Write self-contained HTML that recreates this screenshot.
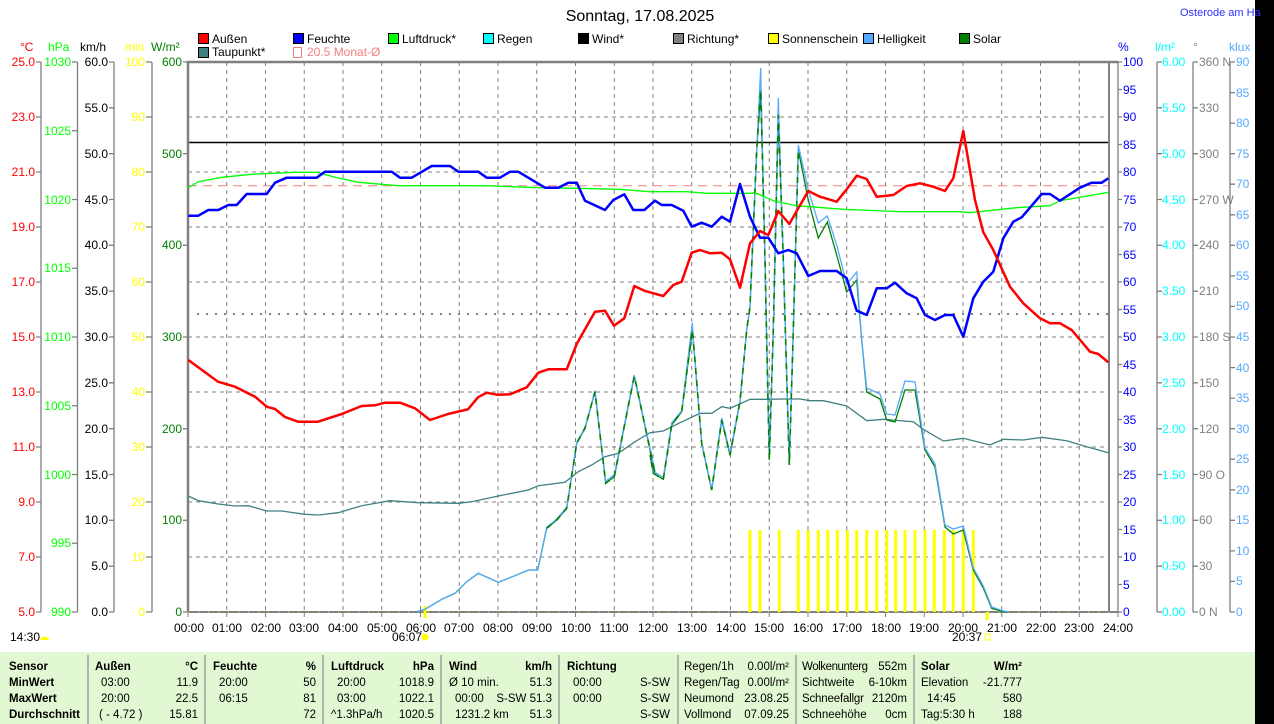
<!DOCTYPE html>
<html><head><meta charset="utf-8"><style>
body{margin:0;background:#fff;width:1274px;height:724px;overflow:hidden;position:relative;font-family:"Liberation Sans",sans-serif}
svg{position:absolute;left:0;top:0}
text{font-family:"Liberation Sans",sans-serif;font-size:12px}
.tb text{font-size:11.5px}
</style></head><body>
<svg width="1274" height="724" viewBox="0 0 1274 724">
<rect x="0" y="652" width="1255" height="72" fill="#e2f8d2"/>
<rect x="1255" y="0" width="19" height="724" fill="#000"/>
<text x="640" y="21" text-anchor="middle" style="font-size:16px">Sonntag, 17.08.2025</text>
<text x="1180" y="16" fill="#3030ff" style="font-size:11px">Osterode am Ha</text>
<g stroke="#000" stroke-width="1">
<rect x="198.5" y="33.5" width="10" height="10" fill="#f00"/>
<rect x="293.5" y="33.5" width="10" height="10" fill="#00f"/>
<rect x="388.5" y="33.5" width="10" height="10" fill="#0f0"/>
<rect x="483.5" y="33.5" width="10" height="10" fill="#0ff"/>
<rect x="578.5" y="33.5" width="10" height="10" fill="#000"/>
<rect x="673.5" y="33.5" width="10" height="10" fill="#808080"/>
<rect x="768.5" y="33.5" width="10" height="10" fill="#ff0"/>
<rect x="863.5" y="33.5" width="10" height="10" fill="#55aaff"/>
<rect x="959.5" y="33.5" width="10" height="10" fill="#008000"/>
<rect x="198.5" y="47.5" width="10" height="10" fill="#408080"/>
</g>
<rect x="293.5" y="47.5" width="8" height="10" fill="none" stroke="#f08080"/>
<g>
<text x="212" y="43">Außen</text><text x="307" y="43">Feuchte</text><text x="402" y="43">Luftdruck*</text>
<text x="497" y="43">Regen</text><text x="592" y="43">Wind*</text><text x="687" y="43">Richtung*</text>
<text x="782" y="43">Sonnenschein</text><text x="877" y="43">Helligkeit</text><text x="973" y="43">Solar</text>
<text x="212" y="56">Taupunkt*</text><text x="307" y="56" fill="#f08080">20.5 Monat-Ø</text>
</g>
<text x="20" y="51" fill="#f00">°C</text><text x="48" y="51" fill="#0f0">hPa</text>
<text x="80" y="51">km/h</text><text x="125" y="51" fill="#ff0">min</text>
<text x="151" y="51" fill="#008000">W/m²</text>
<text x="1118" y="51" fill="#00f">%</text><text x="1155" y="51" fill="#0ff">l/m²</text>
<text x="1193" y="51" fill="#808080">°</text><text x="1229" y="51" fill="#55aaff">klux</text>
<rect x="188" y="62" width="921" height="550" fill="#fff"/>
<g stroke="#808080" stroke-width="1" stroke-dasharray="4,4">
<path d="M226.75 62V612M265.5 62V612M304.25 62V612M343 62V612M381.75 62V612M420.5 62V612M459.25 62V612M498 62V612M536.75 62V612M575.5 62V612M614.25 62V612M653 62V612M691.75 62V612M730.5 62V612M769.25 62V612M808 62V612M846.75 62V612M885.5 62V612M924.25 62V612M963 62V612M1001.75 62V612M1040.5 62V612M1079.25 62V612"/>
<path d="M188 117H1109M188 172H1109M188 227H1109M188 282H1109M188 337H1109M188 392H1109M188 447H1109M188 502H1109M188 557H1109"/>
</g>
<path d="M197 314H1109" stroke="#808080" stroke-width="2" stroke-dasharray="2,7"/>
<path d="M188 142.5H1109" stroke="#000" stroke-width="1.5"/>
<path d="M188 185.7H1109" stroke="#f08080" stroke-width="1" stroke-dasharray="9,6"/>
<path d="M188 612V62H1118" fill="none" stroke="#808080" stroke-width="2.5"/>
<path d="M1109 62V612M188 612H1118" fill="none" stroke="#808080" stroke-width="2"/>
<path d="M188 612H1118" stroke="#ff0" stroke-width="1" stroke-dasharray="1,9"/>
<g stroke="#ff0" stroke-width="3">
<path d="M750 530V612M760 530V612M779.3 530V612M798.3 530V612M808.3 530V612M818.3 530V612M827.7 530V612M837.3 530V612M847.3 530V612M856.7 530V612M866.7 530V612M876.7 530V612M886.7 530V612M895.7 530V612M905 530V612M915 530V612M925 530V612M934.3 530V612M944.3 530V612M953.3 530V612M963.3 530V612M973.3 530V612"/>
<path d="M425 606V618M987 612V620"/>
</g>
<polyline fill="none" stroke="#408080" stroke-width="1.3" points="188.3,496 198.3,500.7 218.3,504 235,506 248.3,505.7 266.7,511 281.7,511 305,514.3 318.3,515 338.3,512.7 361.7,505.7 390,500.7 418.3,502.7 458.3,503.3 471.7,501.7 498.3,496 528.3,490 538.3,485.7 565,482.3 578.3,471.7 591.7,465 605,456.7 618.3,453.3 635,441.7 650,432.7 663.3,431 676.7,424.3 700,413.3 711.7,413.3 721.7,406.7 730,408.3 750,399.3 766.7,399.3 786.7,399 800,399 810,400.7 823.3,400.7 846.7,406 866.7,420.7 883.3,419.3 913.3,421.7 923.3,429.3 943.3,441 963.3,438.3 990,445 1003.3,439.3 1023.3,440 1041.7,437.3 1066.7,440.7 1083.3,445.7 1108.3,452.7"/>
<polyline fill="none" stroke="#008000" stroke-width="1.3" points="416.7,611.7 425,609.3 441.7,599.3 455,593.3 466.7,581.7 478.3,573.3 498.3,582.3 518.3,574.3 528.3,570 537.7,570 546.7,528.3 556.7,520 566.7,508.3 576.7,443.3 585,428.3 595,391.7 605.7,483.3 614.3,476.7 634.3,376 655,473.3 650,455 653.3,473.3 663.3,479.3 671.7,425 681.7,411.7 692.3,330 693.3,340 701.7,443.3 711.7,490 721.7,420 730,455 740,401.7 746.7,330 750,306.7 756.7,150 760.7,90 765,260 766.7,340 769.3,460 773.3,330 778.3,115 783.3,260 789.3,465 793.3,330 798.3,150 808.3,200 818.3,238 827.3,222 836.7,255 846.7,292 856.7,280 861.7,340 866.7,392 880,399 886.7,420 895,422 905,390 915,390 925,450 935,467 945,527 953.3,534 963.3,530 973.3,570 983.3,588 991.7,608.3 1003.3,611.7 1008.3,611.7"/>
<polyline fill="none" stroke="#55aaff" stroke-width="1.3" points="416.7,611.7 425,609.3 441.7,599.3 455,593.3 466.7,581.7 478.3,573.3 498.3,582.3 518.3,574.3 528.3,570 537.7,570 546.7,527.3 556.7,519 566.7,507.3 576.7,442.3 585,427.3 595,390.7 605.7,481.3 614.3,474.7 634.3,375 655,471.3 650,455 653.3,471.3 663.3,477.3 671.7,423 681.7,410.7 692.3,323 693.3,340 701.7,443.3 711.7,490 721.7,418 730,453 740,400.7 746.7,330 750,306.7 756.7,150 760.7,68 765,260 766.7,340 769.3,460 773.3,330 778.3,98 783.3,260 789.3,465 793.3,330 798.3,145 808.3,190 818.3,223 827.3,216 836.7,245 846.7,284 856.7,272 861.7,340 866.7,388 880,394 886.7,414 895,415 905,381 915,382 925,448 935,464 945,525 953.3,529 963.3,526 973.3,568 983.3,586 991.7,607 1003.3,611 1008.3,611.7"/>
<polyline fill="none" stroke="#008000" stroke-width="1.6" stroke-dasharray="6,6" points="546.7,528.3 556.7,520 566.7,508.3 576.7,443.3 585,428.3 595,391.7 605.7,483.3 614.3,476.7 634.3,376 655,473.3 650,455 653.3,473.3 663.3,479.3 671.7,425 681.7,411.7 692.3,330 693.3,340 701.7,443.3 711.7,490 721.7,420 730,455 740,401.7 746.7,330 750,306.7 756.7,150 760.7,90 765,260 766.7,340 769.3,460 773.3,330 778.3,115 783.3,260 789.3,465 793.3,330 798.3,150"/>
<polyline fill="none" stroke="#00ff00" stroke-width="1.3" points="188.3,187.7 198.3,181.7 221.7,177.3 251.7,174.3 295,172.3 316.7,172.3 335,177.3 358.3,182.3 381.7,184.3 398.3,185.7 485,185.7 538.3,187.7 576.7,188.3 618.3,189.3 650,191.7 686.7,191.7 706.7,193.3 756.7,193.3 773.3,200.7 796.7,205.7 843.3,209.3 900,211.7 960,211.7 970,212.7 1016.7,207.7 1050,205.7 1060,200.7 1108.3,192.3"/>
<polyline fill="none" stroke="#0000ff" stroke-width="2.5" stroke-linejoin="round" points="188.3,215.7 198.3,215.7 208.3,210 218.3,210 228.3,205 236.7,205 246.7,194 266.7,194 275,182.7 286.7,177.7 316.7,177.7 325,171.7 391.7,171.7 400,177.7 411.7,177.7 431.7,166 450,166 458.3,171.7 478.3,171.7 486.7,177.7 500,177.7 510,171.7 518.3,171.7 545,187.7 558.3,187.7 568.3,182.7 576.7,182.7 585,200.7 605,210 613.3,200 624.3,194.3 633.3,210 644.3,210 655,200.7 661.7,205 671.7,205 683.3,210.7 691.7,226.7 701.7,222.7 711.7,226.7 721.7,216.7 730,221.7 740,184 750,216.7 760,237.7 768.3,237.7 778.3,253.3 788.3,250 796.7,253.3 808.3,276 820,271 836.7,271 846.7,278.3 856.7,310.7 866.7,315 876.7,288.3 886.7,288.3 895,282.7 906.7,293.3 916.7,298.3 925,315 935,320 945,315 953.3,315 963.3,336.7 973.3,298.3 983.3,281.7 993.3,271.7 1003.3,238.3 1013.3,221.7 1021.7,217.3 1041.7,194 1050,194 1060,200.7 1080,187.7 1091.7,182.7 1101.7,182.7 1108.3,178.3"/>
<polyline fill="none" stroke="#ff0000" stroke-width="2.5" stroke-linejoin="round" points="188.3,360 218,381.7 235,386.7 255,396.7 266.7,406.7 275,409 285,417 298,421.7 318,421.7 341.7,414 361.7,406 375,405.3 385,402.7 400,402.7 415,408.3 430,420 448,414 468,409.3 478,397.3 486.7,392.7 496.7,394.7 510,394.3 526.7,387.3 538.3,372.7 548.3,369.3 566.7,369.3 576.7,344 580,338 595,311.7 605,310.7 614,325.7 624.3,318.3 634.3,286 645,291 650,292.3 663.3,296 673.3,285 681.7,281.7 691.7,252.7 700,250 710,253.3 721.7,252.7 730,259.3 740,287.7 750,243.3 760,231 768.3,235 778.3,211 789.3,224 798.3,208.3 808.3,191 820,196.7 836.7,201.7 846.7,189.3 856.7,175.7 866.7,179 876.7,196.7 893.3,195 906.7,186 920,183.3 933.3,186.7 945,191 953.3,178.3 963.3,131 975,200 983.3,232.3 993.3,250 1010,286.7 1023.3,303.3 1040,318.3 1050,323.3 1060,323.3 1071.7,330 1090,351.7 1098.3,354 1108.3,362.3"/>
<g stroke="#808080" stroke-width="1.3" fill="none">
<path d="M41 62V612M77.5 62V612M114 62V612M152 62V612M1118 62V612M1157 62V612M1193 62V612M1230 62V612"/>
<path d="M36 62H41M36 117H41M36 172H41M36 227H41M36 282H41M36 337H41M36 392H41M36 447H41M36 502H41M36 557H41M36 612H41"/>
<path d="M72 62H77.5M72 130.75H77.5M72 199.5H77.5M72 268.25H77.5M72 337H77.5M72 405.75H77.5M72 474.5H77.5M72 543.25H77.5M72 612H77.5"/>
<path d="M109 62H114M109 107.8H114M109 153.7H114M109 199.5H114M109 245.3H114M109 291.2H114M109 337H114M109 382.8H114M109 428.7H114M109 474.5H114M109 520.3H114M109 566.2H114M109 612H114"/>
<path d="M146 62H152M146 117H152M146 172H152M146 227H152M146 282H152M146 337H152M146 392H152M146 447H152M146 502H152M146 557H152M146 612H152"/>
<path d="M183 62H188M183 153.7H188M183 245.3H188M183 337H188M183 428.7H188M183 520.3H188M183 612H188"/>
<path d="M1118 62H1122M1118 89.5H1122M1118 117H1122M1118 144.5H1122M1118 172H1122M1118 199.5H1122M1118 227H1122M1118 254.5H1122M1118 282H1122M1118 309.5H1122M1118 337H1122M1118 364.5H1122M1118 392H1122M1118 419.5H1122M1118 447H1122M1118 474.5H1122M1118 502H1122M1118 529.5H1122M1118 557H1122M1118 584.5H1122M1118 612H1122"/>
<path d="M1157 62H1162M1157 107.8H1162M1157 153.7H1162M1157 199.5H1162M1157 245.3H1162M1157 291.2H1162M1157 337H1162M1157 382.8H1162M1157 428.7H1162M1157 474.5H1162M1157 520.3H1162M1157 566.2H1162M1157 612H1162"/>
<path d="M1193 62H1198M1193 107.8H1198M1193 153.7H1198M1193 199.5H1198M1193 245.3H1198M1193 291.2H1198M1193 337H1198M1193 382.8H1198M1193 428.7H1198M1193 474.5H1198M1193 520.3H1198M1193 566.2H1198M1193 612H1198"/>
<path d="M1230 62H1235M1230 92.6H1235M1230 123.1H1235M1230 153.7H1235M1230 184.2H1235M1230 214.8H1235M1230 245.3H1235M1230 275.9H1235M1230 306.4H1235M1230 337H1235M1230 367.6H1235M1230 398.1H1235M1230 428.7H1235M1230 459.2H1235M1230 489.8H1235M1230 520.3H1235M1230 550.9H1235M1230 581.4H1235M1230 612H1235"/>
</g>
<g text-anchor="end" fill="#f00">
<text x="35" y="66">25.0</text><text x="35" y="121">23.0</text><text x="35" y="176">21.0</text><text x="35" y="231">19.0</text><text x="35" y="286">17.0</text><text x="35" y="341">15.0</text><text x="35" y="396">13.0</text><text x="35" y="451">11.0</text><text x="35" y="506">9.0</text><text x="35" y="561">7.0</text><text x="35" y="616">5.0</text>
</g>
<g text-anchor="end" fill="#0f0">
<text x="71" y="66">1030</text><text x="71" y="135">1025</text><text x="71" y="204">1020</text><text x="71" y="272">1015</text><text x="71" y="341">1010</text><text x="71" y="410">1005</text><text x="71" y="479">1000</text><text x="71" y="547">995</text><text x="71" y="616">990</text>
</g>
<g text-anchor="end" fill="#000">
<text x="108" y="66">60.0</text><text x="108" y="112">55.0</text><text x="108" y="158">50.0</text><text x="108" y="204">45.0</text><text x="108" y="249">40.0</text><text x="108" y="295">35.0</text><text x="108" y="341">30.0</text><text x="108" y="387">25.0</text><text x="108" y="433">20.0</text><text x="108" y="479">15.0</text><text x="108" y="524">10.0</text><text x="108" y="570">5.0</text><text x="108" y="616">0.0</text>
</g>
<g text-anchor="end" fill="#ff0">
<text x="145" y="66">100</text><text x="145" y="121">90</text><text x="145" y="176">80</text><text x="145" y="231">70</text><text x="145" y="286">60</text><text x="145" y="341">50</text><text x="145" y="396">40</text><text x="145" y="451">30</text><text x="145" y="506">20</text><text x="145" y="561">10</text><text x="145" y="616">0</text>
</g>
<g text-anchor="end" fill="#008000">
<text x="182" y="66">600</text><text x="182" y="158">500</text><text x="182" y="249">400</text><text x="182" y="341">300</text><text x="182" y="433">200</text><text x="182" y="524">100</text><text x="182" y="616">0</text>
</g>
<g fill="#00f">
<text x="1123" y="66">100</text><text x="1123" y="94">95</text><text x="1123" y="121">90</text><text x="1123" y="149">85</text><text x="1123" y="176">80</text><text x="1123" y="204">75</text><text x="1123" y="231">70</text><text x="1123" y="259">65</text><text x="1123" y="286">60</text><text x="1123" y="314">55</text><text x="1123" y="341">50</text><text x="1123" y="369">45</text><text x="1123" y="396">40</text><text x="1123" y="424">35</text><text x="1123" y="451">30</text><text x="1123" y="479">25</text><text x="1123" y="506">20</text><text x="1123" y="534">15</text><text x="1123" y="561">10</text><text x="1123" y="589">5</text><text x="1123" y="616">0</text>
</g>
<g fill="#0ff">
<text x="1162" y="66">6.00</text><text x="1162" y="112">5.50</text><text x="1162" y="158">5.00</text><text x="1162" y="204">4.50</text><text x="1162" y="249">4.00</text><text x="1162" y="295">3.50</text><text x="1162" y="341">3.00</text><text x="1162" y="387">2.50</text><text x="1162" y="433">2.00</text><text x="1162" y="479">1.50</text><text x="1162" y="524">1.00</text><text x="1162" y="570">0.50</text><text x="1162" y="616">0.00</text>
</g>
<g fill="#808080">
<text x="1199" y="66">360 N</text><text x="1199" y="112">330</text><text x="1199" y="158">300</text><text x="1199" y="204">270 W</text><text x="1199" y="249">240</text><text x="1199" y="295">210</text><text x="1199" y="341">180 S</text><text x="1199" y="387">150</text><text x="1199" y="433">120</text><text x="1199" y="479">90 O</text><text x="1199" y="524">60</text><text x="1199" y="570">30</text><text x="1199" y="616">0 N</text>
</g>
<g fill="#55aaff">
<text x="1236" y="66">90</text><text x="1236" y="97">85</text><text x="1236" y="127">80</text><text x="1236" y="158">75</text><text x="1236" y="188">70</text><text x="1236" y="219">65</text><text x="1236" y="249">60</text><text x="1236" y="280">55</text><text x="1236" y="310">50</text><text x="1236" y="341">45</text><text x="1236" y="372">40</text><text x="1236" y="402">35</text><text x="1236" y="433">30</text><text x="1236" y="463">25</text><text x="1236" y="494">20</text><text x="1236" y="524">15</text><text x="1236" y="555">10</text><text x="1236" y="585">5</text><text x="1236" y="616">0</text>
</g>
<path d="M188 612V617M226.75 612V617M265.5 612V617M304.25 612V617M343 612V617M381.75 612V617M420.5 612V617M459.25 612V617M498 612V617M536.75 612V617M575.5 612V617M614.25 612V617M653 612V617M691.75 612V617M730.5 612V617M769.25 612V617M808 612V617M846.75 612V617M885.5 612V617M924.25 612V617M963 612V617M1001.75 612V617M1040.5 612V617M1079.25 612V617M1118 612V617" stroke="#808080"/>
<g text-anchor="middle">
<text x="189" y="632">00:00</text><text x="227" y="632">01:00</text><text x="266" y="632">02:00</text><text x="304" y="632">03:00</text><text x="343" y="632">04:00</text><text x="382" y="632">05:00</text><text x="421" y="632">06:00</text><text x="459" y="632">07:00</text><text x="498" y="632">08:00</text><text x="537" y="632">09:00</text><text x="576" y="632">10:00</text><text x="614" y="632">11:00</text><text x="653" y="632">12:00</text><text x="692" y="632">13:00</text><text x="731" y="632">14:00</text><text x="769" y="632">15:00</text><text x="808" y="632">16:00</text><text x="847" y="632">17:00</text><text x="886" y="632">18:00</text><text x="924" y="632">19:00</text><text x="963" y="632">20:00</text><text x="1002" y="632">21:00</text><text x="1041" y="632">22:00</text><text x="1079" y="632">23:00</text><text x="1118" y="632">24:00</text>
</g>
<text x="392" y="641">06:07</text><circle cx="425" cy="637" r="3.5" fill="#ff0"/>
<text x="952" y="641">20:37</text><rect x="985" y="634" width="5" height="6" fill="none" stroke="#ff0"/>
<text x="10" y="641">14:30</text><path d="M40 640a4 3 0 0 1 9 0z" fill="#ff0"/>
<g stroke="#a0a0a0" stroke-width="1.5">
<path d="M88 655V724M205 655V724M323 655V724M441 655V724M559 655V724M678 655V724M796 655V724M914 655V724"/>
</g>
<g class="tb">
<g style="font-weight:bold">
<text x="9" y="670">Sensor</text><text x="9" y="686">MinWert</text><text x="9" y="702">MaxWert</text><text x="9" y="718">Durchschnitt</text>
<text x="95" y="670">Außen</text><text x="198" y="670" text-anchor="end">°C</text>
<text x="213" y="670">Feuchte</text><text x="316" y="670" text-anchor="end">%</text>
<text x="331" y="670">Luftdruck</text><text x="434" y="670" text-anchor="end">hPa</text>
<text x="449" y="670">Wind</text><text x="552" y="670" text-anchor="end">km/h</text>
<text x="567" y="670">Richtung</text>
<text x="921" y="670">Solar</text><text x="1022" y="670" text-anchor="end">W/m²</text>
</g>
<text x="101" y="686">03:00</text><text x="101" y="702">20:00</text><text x="99" y="718">( - 4.72 )</text>
<g text-anchor="end"><text x="198" y="686">11.9</text><text x="198" y="702">22.5</text><text x="198" y="718">15.81</text>
<text x="316" y="686">50</text><text x="316" y="702">81</text><text x="316" y="718">72</text>
<text x="434" y="686">1018.9</text><text x="434" y="702">1022.1</text><text x="434" y="718">1020.5</text>
<text x="552" y="686">51.3</text><text x="552" y="702">S-SW 51.3</text><text x="552" y="718">51.3</text>
<text x="670" y="686">S-SW</text><text x="670" y="702">S-SW</text><text x="670" y="718">S-SW</text>
<text x="789" y="670">0.00l/m²</text><text x="789" y="686">0.00l/m²</text><text x="789" y="702">23.08.25</text><text x="789" y="718">07.09.25</text>
<text x="907" y="670">552m</text><text x="907" y="686">6-10km</text><text x="907" y="702">2120m</text><text x="907" y="718">0cm</text>
<text x="1022" y="686">-21.777</text><text x="1022" y="702">580</text><text x="1022" y="718">188</text></g>
<text x="219" y="686">20:00</text><text x="219" y="702">06:15</text>
<text x="337" y="686">20:00</text><text x="337" y="702">03:00</text><text x="331" y="718">^1.3hPa/h</text>
<text x="449" y="686">Ø 10 min.</text><text x="455" y="702">00:00</text><text x="455" y="718">1231.2 km</text>
<text x="573" y="686">00:00</text><text x="573" y="702">00:00</text>
<text x="684" y="670">Regen/1h</text><text x="684" y="686">Regen/Tag</text><text x="684" y="702">Neumond</text><text x="684" y="718">Vollmond</text>
<text x="802" y="670" textLength="66">Wolkenunterg</text><text x="802" y="686">Sichtweite</text><text x="802" y="702" textLength="62">Schneefallgr</text><text x="802" y="718">Schneehöhe</text>
<text x="921" y="686">Elevation</text><text x="927" y="702">14:45</text><text x="921" y="718">Tag:5:30 h</text>
</g>
</svg>
</body></html>
